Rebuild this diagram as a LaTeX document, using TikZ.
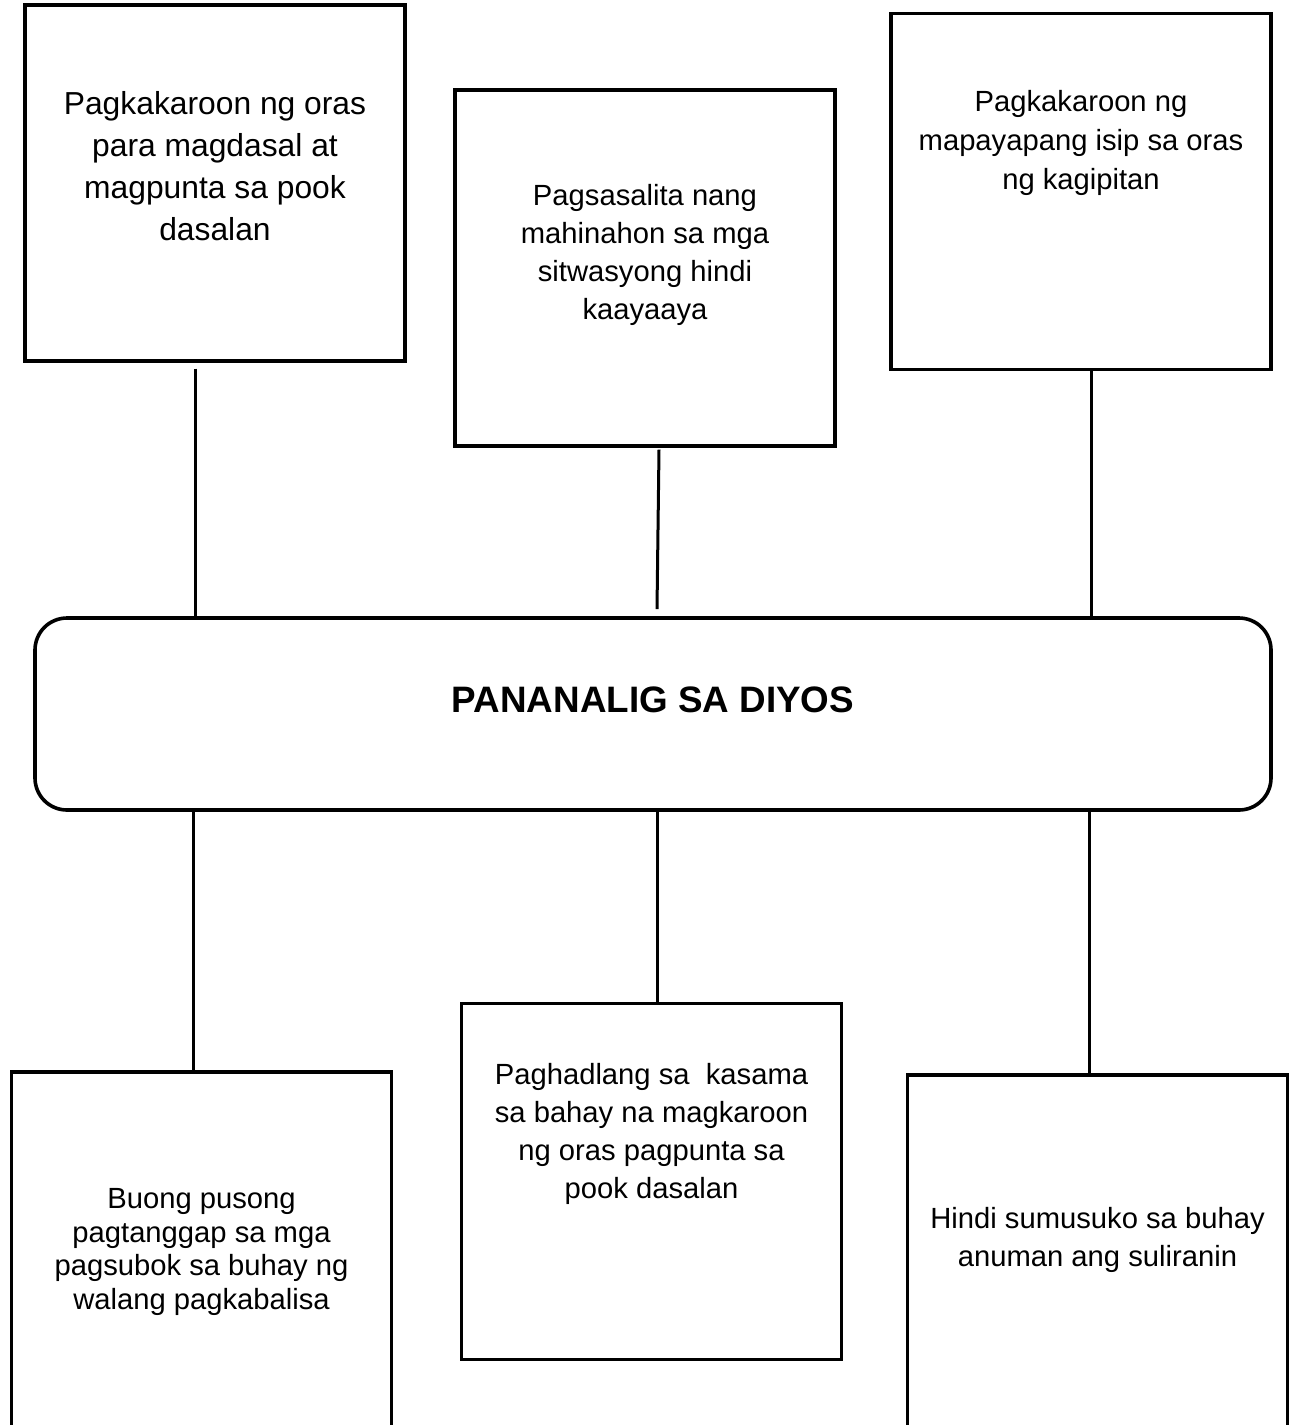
\documentclass[tikz,border=0pt]{standalone}
\usepackage{fontspec}
\setmainfont{Liberation Sans}
\usepackage{tikz}
\usetikzlibrary{positioning}

\begin{document}
\begin{tikzpicture}[
    x=0.5pt, y=-0.5pt,
    box/.style={rectangle, draw=black, line width=1.6pt, minimum width=190pt,
                minimum height=178pt, inner sep=0pt},
    tallbox/.style={box, minimum height=200pt},
    corebox/.style={rectangle, draw=black, line width=1.8pt, rounded corners=16pt,
                    minimum width=618pt, minimum height=96pt, inner sep=0pt},
    txt/.style={align=center, inner sep=0pt, font=\fontsize{14.6}{19}\selectfont},
    bigtxt/.style={txt, font=\fontsize{15.9}{21}\selectfont},
    title/.style={font=\fontsize{18.4}{22}\selectfont\bfseries, inner sep=0pt, anchor=base},
    link/.style={line width=1.5pt, black},
  ]
    \useasboundingbox (0,0) rectangle (1290,1425);
    \clip (0,0) rectangle (1290,1425);

    % --- top row ---
    \node[box] (bA) at (215,183)     {};
    \node[box] (bB) at (645,268)     {};
    \node[box] (bC) at (1081,191.5)  {};

    % --- centre ---
    \node[corebox] (core) at (653,714) {};
    \node[title] (ttl) at ([yshift=1pt]core.center) {PANANALIG SA DIYOS};

    % --- bottom row (the outer two run off the page) ---
    \node[tallbox] (bD) at (201.5,1272) {};
    \node[box]     (bE) at (651.5,1181.5) {};
    \node[tallbox] (bF) at (1097.5,1275) {};

    % --- texts ---
    \node[bigtxt, below=44pt of bA.north] (tA)
      {Pagkakaroon ng oras\\ para magdasal at\\ magpunta sa pook\\ dasalan};
    \node[txt, below=48pt of bB.north] (tB)
      {Pagsasalita nang\\ mahinahon sa mga\\ sitwasyong hindi\\ kaayaaya};
    \node[txt, font=\fontsize{14.6}{19.5}\selectfont, below=39pt of bC.north] (tC)
      {Pagkakaroon ng\\ mapayapang isip sa oras\\ ng kagipitan};
    \node[txt, font=\fontsize{14.6}{16.7}\selectfont, below=59pt of bD.north] (tD)
      {Buong pusong\\ pagtanggap sa mga\\ pagsubok sa buhay ng\\ walang pagkabalisa};
    \node[txt, below=30.5pt of bE.north] (tE)
      {Paghadlang sa\ \ kasama\\ sa bahay na magkaroon\\ ng oras pagpunta sa\\ pook dasalan};
    \node[txt, below=67pt of bF.north] (tF)
      {Hindi sumusuko sa buhay\\ anuman ang suliranin};

    % --- links up ---
    \draw[link] ([xshift=-10pt,yshift=-3pt]bA.south) -- ([xshift=-10pt]bA.south |- core.north);
    \draw[link] ([xshift=7pt,yshift=-1pt]bB.south) -- ([xshift=2pt,yshift=3.5pt]core.north);
    \draw[link] ([xshift=5pt]bC.south) -- ([xshift=5pt]bC.south |- core.north);

    % --- links down ---
    \draw[link] ([xshift=-4.25pt]bD.north |- core.south) -- ([xshift=-4.25pt]bD.north);
    \draw[link] ([xshift=2.75pt]bE.north |- core.south) -- ([xshift=2.75pt]bE.north);
    \draw[link] ([xshift=-4.25pt]bF.north |- core.south) -- ([xshift=-4.25pt]bF.north);
\end{tikzpicture}
\end{document}
